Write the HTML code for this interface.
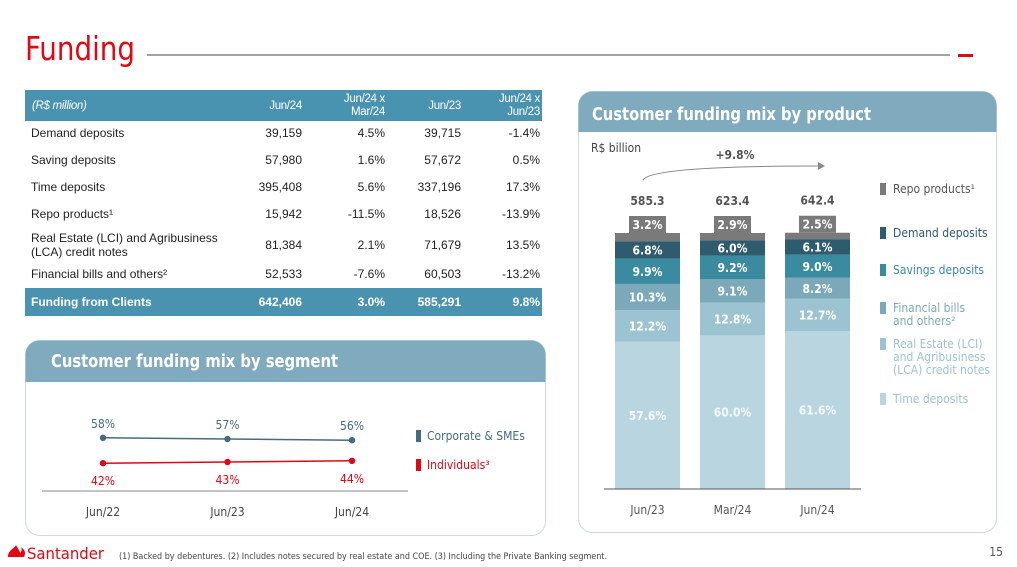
<!DOCTYPE html>
<html><head><meta charset="utf-8"><style>
html,body{margin:0;padding:0;background:#fff;}
svg{display:block;font-family:"Liberation Sans","DejaVu Sans",sans-serif;}
.w{font-family:"DejaVu Sans Condensed","DejaVu Sans","Liberation Sans",sans-serif;}
</style></head><body>
<svg id="s" width="1017" height="567" viewBox="0 0 1017 567" xmlns="http://www.w3.org/2000/svg">
<g>
<text x="25" y="60" font-size="33" fill="#e30613" class="w" textLength="110" lengthAdjust="spacingAndGlyphs">Funding</text>
<line x1="147" y1="55" x2="950" y2="55" stroke="#444" stroke-width="1"/>
<rect x="958" y="54" width="15" height="3" fill="#e30613"/>
</g>
<g id="tbl"></g>
<g>
<rect x="25.5" y="340.5" width="520" height="195" rx="14" fill="#fff" stroke="#c9dbe3"/>
<path d="M25.5 382 V354.5 a14 14 0 0 1 14 -14 H531.5 a14 14 0 0 1 14 14 V382 Z" fill="#80aabd"/>
<text x="51" y="367" font-size="18" font-weight="bold" fill="#fff" class="w" textLength="287" lengthAdjust="spacingAndGlyphs">Customer funding mix by segment</text>
<g id="seg"></g>
</g>
<g>
<rect x="578.5" y="91.5" width="418" height="441" rx="14" fill="#fff" stroke="#c9dbe3"/>
<path d="M578.5 132 V105.5 a14 14 0 0 1 14 -14 H982.5 a14 14 0 0 1 14 14 V132 Z" fill="#80aabd"/>
<text x="592" y="120" font-size="18" font-weight="bold" fill="#fff" class="w" textLength="279" lengthAdjust="spacingAndGlyphs">Customer funding mix by product</text>
<text x="591" y="152" font-size="12" fill="#444" class="w">R$ billion</text>
<path d="M643 180 Q650 166 818 166" fill="none" stroke="#888" stroke-width="1"/>
<path d="M818 162 L825 166 L818 170 Z" fill="#888"/>
<text x="735" y="159" font-size="12" font-weight="bold" fill="#555" text-anchor="middle" class="w">+9.8%</text>
<g id="prod"></g>
</g>
<g>
<path d="M8 557 C8 550,14 549,16 545 C18 549,20 551,20 553 C22 551,22 549,21 547 C25 550,26 553,24 557 Z" fill="#e30613"/>
<text x="27" y="559" font-size="16" fill="#e30613" class="w" textLength="77" lengthAdjust="spacingAndGlyphs">Santander</text>
<text x="119" y="559" font-size="8.5" fill="#444" class="w" textLength="488" lengthAdjust="spacingAndGlyphs">(1) Backed by debentures. (2) Includes notes secured by real estate and COE. (3) Including the Private Banking segment.</text>
<text x="1003" y="556" font-size="12" fill="#555" text-anchor="end" class="w">15</text>
</g>
</svg>
<script>
// ---------- table data ----------
var tableHeaders = ["(R$ million)", "Jun/24", "Jun/24 x|Mar/24", "Jun/23", "Jun/24 x|Jun/23"];
var tableRows = [
  ["Demand deposits", "39,159", "4.5%", "39,715", "-1.4%"],
  ["Saving deposits", "57,980", "1.6%", "57,672", "0.5%"],
  ["Time deposits", "395,408", "5.6%", "337,196", "17.3%"],
  ["Repo products\u00B9", "15,942", "-11.5%", "18,526", "-13.9%"],
  ["Real Estate (LCI) and Agribusiness|(LCA) credit notes", "81,384", "2.1%", "71,679", "13.5%"],
  ["Financial bills and others\u00B2", "52,533", "-7.6%", "60,503", "-13.2%"]
];
var tableTotal = ["Funding from Clients", "642,406", "3.0%", "585,291", "9.8%"];

// ---------- segment chart data ----------
var segCategories = ["Jun/22", "Jun/23", "Jun/24"];
var segCorporate = [58, 57, 56];
var segIndividuals = [42, 43, 44];
var segSeriesNames = ["Corporate & SMEs", "Individuals\u00B3"];

// ---------- product chart data ----------
var prodCategories = ["Jun/23", "Mar/24", "Jun/24"];
var prodTotals = ["585.3", "623.4", "642.4"];
var prodTime = [57.6, 60.0, 61.6];
var prodRealEstate = [12.2, 12.8, 12.7];
var prodFinBills = [10.3, 9.1, 8.2];
var prodSavings = [9.9, 9.2, 9.0];
var prodDemand = [6.8, 6.0, 6.1];
var prodRepo = [3.2, 2.9, 2.5];
var prodSeriesNames = ["Time deposits", "Real Estate (LCI)|and Agribusiness|(LCA) credit notes", "Financial bills|and others\u00B2", "Savings deposits", "Demand deposits", "Repo products\u00B9"];

var NS = "http://www.w3.org/2000/svg";
function mk(tag, attrs, parent, txt) {
  var e = document.createElementNS(NS, tag);
  for (var k in attrs) e.setAttribute(k, attrs[k]);
  if (txt != null) e.textContent = txt;
  parent.appendChild(e);
  return e;
}
function multiline(parent, x, y, str, lh, attrs) {
  var t = mk("text", Object.assign({x: x, y: y}, attrs), parent);
  str.split("|").forEach(function (s, i) {
    mk("tspan", {x: x, dy: i ? lh : 0}, t, s);
  });
  return t;
}

// ---------- table ----------
(function () {
  var g = document.getElementById("tbl");
  var colRight = [0, 302, 385, 461, 540];
  var hdr = mk("rect", {x: 25, y: 90, width: 517, height: 31, fill: "#4a93b0"}, g);
  
  
  tableHeaders.forEach(function (h, i) {
    var lines = h.split("|");
    var x = i === 0 ? 32 : colRight[i];
    var y = lines.length > 1 ? 102 : 109;
    var t = multiline(g, x, y, h, 13, {"font-size": 11.5, fill: "#fff", "text-anchor": i === 0 ? "start" : "end", "font-style": i === 0 ? "italic" : "normal", "letter-spacing": "-0.3"});
    
    
  });
  var rowY = [137, 164, 191, 218, 249, 278];
  tableRows.forEach(function (r, ri) {
    r.forEach(function (c, ci) {
      var lines = c.split("|");
      var y = lines.length > 1 ? rowY[ri] - 7 : rowY[ri];
      var t = multiline(g, ci === 0 ? 31 : colRight[ci], y, c, 14, {"font-size": 12, fill: "#222", "text-anchor": ci === 0 ? "start" : "end"});
      
      
    });
  });
  var tot = mk("rect", {x: 25, y: 288, width: 517, height: 28, fill: "#4a93b0"}, g);
  
  
  tableTotal.forEach(function (c, ci) {
    var t = mk("text", {x: ci === 0 ? 31 : colRight[ci], y: 306, "font-size": 12, "font-weight": "bold", fill: "#fff", "text-anchor": ci === 0 ? "start" : "end"}, g, c);
    
    
  });
})();

// ---------- segment line chart ----------
(function () {
  var g = document.getElementById("seg");
  var x0 = 103, step = 124.5;
  function sx(i) { return x0 + i * step; }
  function syC(v) { return 439 - (v - 57) * 1.2; }
  function syI(v) { return 462 - (v - 43) * 1.2; }
  var ax = mk("line", {x1: 42, y1: 491, x2: 408, y2: 491, stroke: "#888", "stroke-width": 1}, g);
  
  
  var series = [[segCorporate, syC, "#466b7f", -10], [segIndividuals, syI, "#e30613", 22]];
  series.forEach(function (s, si) {
    var pts = s[0].map(function (v, i) { return sx(i) + "," + s[1](v); }).join(" ");
    var pl = mk("polyline", {points: pts, fill: "none", stroke: s[2], "stroke-width": 1.5}, g);
    
    
    s[0].forEach(function (v, i) {
      var c = mk("circle", {cx: sx(i), cy: s[1](v), r: 3.2, fill: s[2]}, g);
      
      
      var t = mk("text", {x: sx(i), y: s[1](v) + s[3], "font-size": 12, fill: si ? "#e30613" : "#466b7f", "text-anchor": "middle", "class": "w"}, g, v + "%");
      
      
    });
  });
  segCategories.forEach(function (c, i) {
    var t = mk("text", {x: sx(i), y: 516, "font-size": 12, fill: "#444", "text-anchor": "middle", "class": "w"}, g, c);
    
    
  });
  var lc = ["#466b7f", "#e30613"], ly = [436, 465];
  segSeriesNames.forEach(function (n, i) {
    var r = mk("rect", {x: 416, y: ly[i] - 6, width: 5, height: 12, fill: lc[i]}, g);
    
    
    var t = mk("text", {x: 427, y: ly[i] + 4, "font-size": 12, fill: lc[i], "class": "w"}, g, n);
    
    
  });
})();

// ---------- product stacked bar chart ----------
(function () {
  var g = document.getElementById("prod");
  var base = 489, fullH = 256, barW = 65, x0 = 615, step = 85;
  function bx(i) { return x0 + i * step; }
  function h(v) { return v / 100 * fullH; }
  var series = [prodTime, prodRealEstate, prodFinBills, prodSavings, prodDemand, prodRepo];
  var colors = ["#b9d5df", "#9cc3d2", "#7ca9ba", "#3a8aa0", "#2e5b6e", "#7a7a7a"];
  var names = ["time", "real-estate", "financial-bills", "savings", "demand", "repo"];
  prodCategories.forEach(function (cat, i) {
    var y = base;
    series.forEach(function (s, si) {
      var hh = h(s[i]);
      y -= hh;
      var r = mk("rect", {x: bx(i), y: y, width: barW, height: hh, fill: colors[si]}, g);
      
      
      if (si < 5) {
        var t = mk("text", {x: bx(i) + barW / 2, y: y + hh / 2 + 4.5, "font-size": 12, "font-weight": "bold", fill: si === 0 ? "#f4f8fa" : "#fff", "text-anchor": "middle", "class": "w"}, g, s[i].toFixed(1) + "%");
        
        
      } else {
        var bxr = mk("rect", {x: bx(i) + 14, y: y - 17, width: 37, height: 17, fill: "#7a7a7a"}, g);
        
        
        var t2 = mk("text", {x: bx(i) + barW / 2, y: y - 4, "font-size": 12, "font-weight": "bold", fill: "#fff", "text-anchor": "middle", "class": "w"}, g, s[i].toFixed(1) + "%");
        
        
        var tt = mk("text", {x: bx(i) + barW / 2, y: y - 28, "font-size": 12, "font-weight": "bold", fill: "#555", "text-anchor": "middle", "class": "w"}, g, prodTotals[i]);
        
        
      }
    });
    var xt = mk("text", {x: bx(i) + barW / 2, y: 514, "font-size": 12, fill: "#555", "text-anchor": "middle", "class": "w"}, g, cat);
    
    
  });
  var ax = mk("line", {x1: 604, y1: base, x2: 861, y2: base, stroke: "#555", "stroke-width": 1}, g);
  
  
  var legY = [189, 233, 270, 308, 344, 399];
  var legTxt = ["#555", "#2e5b6e", "#3a8aa0", "#7ca9ba", "#9cc3d2", "#9cc3d2"];
  for (var k = 0; k < 6; k++) {
    var si = 5 - k;
    var sw = mk("rect", {x: 880, y: legY[k] - 6, width: 6, height: 12, fill: colors[si]}, g);
    
    
    var lt = multiline(g, 893, legY[k] + 4, prodSeriesNames[si], 13, {"font-size": 12, fill: legTxt[k], "class": "w"});
    
    
  }
})();
</script>
</body></html>
